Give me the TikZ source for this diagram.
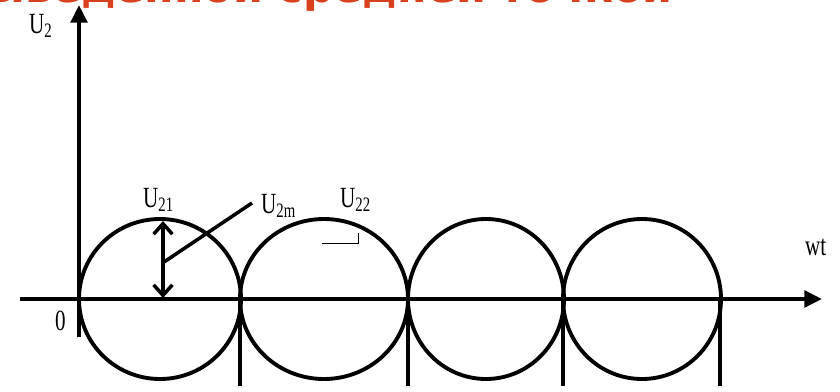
\documentclass[tikz,border=0pt]{standalone}
\usepackage{fontspec}
\usepackage{graphicx}
\setmainfont{Liberation Serif}
\newfontfamily\titlefont{DejaVu Sans}
\usetikzlibrary{arrows.meta}
\definecolor{tred}{HTML}{D9411E}
\tikzset{
  % thick axes with filled heads
  axis/.style   = {-{Triangle[length=15pt,width=14pt]}, line width=3.4pt},
  wave/.style   = {line width=3.3pt},
  bar/.style    = {line width=3.4pt},
  amp/.style    = {{Straight Barb[length=9pt,width=16pt]}-{Straight Barb[length=9pt,width=16pt]},
                   line width=3pt},
  lead/.style   = {line width=3pt},
  rangle/.style = {line width=0.8pt},
  lbl/.style    = {font=\fontsize{25}{28}\selectfont, inner sep=0pt},
  ttl/.style    = {font=\titlefont\bfseries\fontsize{36.5}{42}\selectfont, text=tred, inner sep=0pt},
}
\newcommand{\narrow}[1]{\scalebox{0.72}[1]{#1}}
\begin{document}
\begin{tikzpicture}[x=0.03cm, y=-0.03cm]
\useasboundingbox (0,0) rectangle (840,391);
% title, cut by the top edge of the page
\node[ttl, anchor=base east] (title) at (673,3) {с выведенной средней точкой};
% axes
\coordinate (O) at (79,299);
\coordinate (ytop) at (79,5);
\coordinate (ybot) at (79,337);
\coordinate (xbeg) at (20,299);
\coordinate (xend) at (822,299);
\draw[axis] (ybot) -- (ytop);
\draw[axis] (xbeg) -- (xend);
% half-waves of both windings
\foreach \cx/\rx in {160/81,324/84,486/78,642/79}
  \draw[wave] (\cx,299) ellipse [x radius=\rx, y radius=80];
\foreach \bx in {240,408,563,720}
  \draw[bar] (\bx,299) -- (\bx,386);
% amplitude
\coordinate (ampbot) at (163,298);
\coordinate (amptop) at (163,221);
\coordinate (leadfoot) at (164,262);
\coordinate (leadtip) at (252,203);
\draw[amp] (ampbot) -- (amptop);
\draw[lead] (leadfoot) -- (leadtip);
\draw[rangle] (322,243) -- (358,243) -- (358,233);
% labels
\node[lbl, anchor=base west] (u2)  at (29,33)   {\narrow{U\textsubscript{2}}};
\node[lbl, anchor=base west] (u21) at (143,207) {\narrow{U\textsubscript{21}}};
\node[lbl, anchor=base west] (u2m) at (261,213) {\narrow{U\textsubscript{2m}}};
\node[lbl, anchor=base west] (u22) at (340,207) {\narrow{U\textsubscript{22}}};
\node[lbl, anchor=base west] (wt)  at (805,255) {\narrow{wt}};
\node[lbl, anchor=base west] (zero) at (55,330) {\narrow{0}};
\end{tikzpicture}
\end{document}
